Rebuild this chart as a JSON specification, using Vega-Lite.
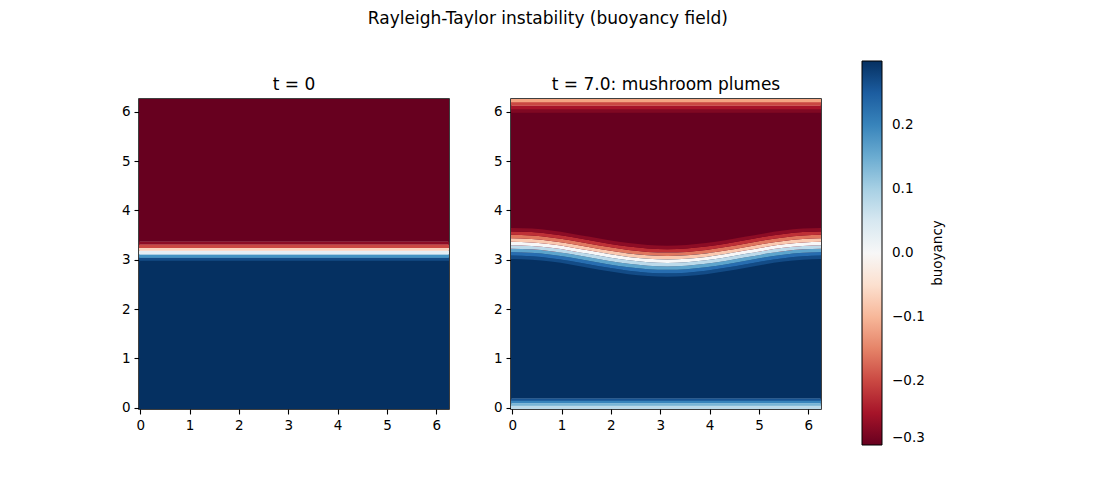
{
  "$schema": "https://vega.github.io/schema/vega-lite/v6.json",
  "padding": {"left": 120, "top": 10, "right": 10, "bottom": 10},
  "title": {"text": "Rayleigh-Taylor instability (buoyancy field)", "fontSize": 17, "offset": 33, "anchor": "middle", "dx": 15},
  "bounds": "flush",
  "spacing": 62,
  "config": {
    "font": "DejaVu Sans",
    "view": {"stroke": "black", "strokeWidth": 1.5},
    "axis": {"domain": false, "grid": false, "tickColor": "black", "tickSize": 5, "tickWidth": 1.1, "labelColor": "black", "labelFont": "DejaVu Sans", "labelFontSize": 13.5, "labelPadding": 4, "labelFlush": false, "labelOverlap": false},
    "title": {"font": "DejaVu Sans", "fontSize": 17, "fontWeight": "normal", "color": "black", "offset": 5},
    "legend": {"labelFont": "DejaVu Sans", "titleFont": "DejaVu Sans"}
  },
  "datasets": {
    "t0": [
      {"x": -0.03, "x2": 6.26, "y": -0.03, "y2": 3.0, "b": 0.3},
      {"x": -0.03, "x2": 6.26, "y": 2.98, "y2": 3.05, "b": 0.27},
      {"x": -0.03, "x2": 6.26, "y": 3.04, "y2": 3.11, "b": 0.18},
      {"x": -0.03, "x2": 6.26, "y": 3.105, "y2": 3.185, "b": 0.03},
      {"x": -0.03, "x2": 6.26, "y": 3.18, "y2": 3.245, "b": -0.07},
      {"x": -0.03, "x2": 6.26, "y": 3.24, "y2": 3.315, "b": -0.2},
      {"x": -0.03, "x2": 6.26, "y": 3.31, "y2": 3.375, "b": -0.27},
      {"x": -0.03, "x2": 6.26, "y": 3.37, "y2": 6.26, "b": -0.3}
    ],
    "t7base": [
      {"x": -0.03, "x2": 6.26, "y": 0.185, "y2": 3.15, "b": 0.3},
      {"x": -0.03, "x2": 6.26, "y": 3.15, "y2": 6.0, "b": -0.3},
      {"x": -0.03, "x2": 6.26, "y": 0.135, "y2": 0.19, "b": 0.26},
      {"x": -0.03, "x2": 6.26, "y": 0.085, "y2": 0.14, "b": 0.2},
      {"x": -0.03, "x2": 6.26, "y": 0.035, "y2": 0.09, "b": 0.14},
      {"x": -0.03, "x2": 6.26, "y": -0.03, "y2": 0.04, "b": 0.08},
      {"x": -0.03, "x2": 6.26, "y": 5.98, "y2": 6.055, "b": -0.28},
      {"x": -0.03, "x2": 6.26, "y": 6.05, "y2": 6.125, "b": -0.25},
      {"x": -0.03, "x2": 6.26, "y": 6.12, "y2": 6.195, "b": -0.2},
      {"x": -0.03, "x2": 6.26, "y": 6.19, "y2": 6.26, "b": -0.12}
    ],
    "t7wave": [
      {"k":1,"x":-0.03,"lo":3.015,"hi":3.085,"b":0.27},{"k":1,"x":0.393,"lo":3.001,"hi":3.071,"b":0.27},{"k":1,"x":0.785,"lo":2.962,"hi":3.032,"b":0.27},{"k":1,"x":1.178,"lo":2.904,"hi":2.974,"b":0.27},{"k":1,"x":1.571,"lo":2.835,"hi":2.905,"b":0.27},{"k":1,"x":1.963,"lo":2.766,"hi":2.836,"b":0.27},{"k":1,"x":2.356,"lo":2.708,"hi":2.778,"b":0.27},{"k":1,"x":2.749,"lo":2.669,"hi":2.739,"b":0.27},{"k":1,"x":3.142,"lo":2.655,"hi":2.725,"b":0.27},{"k":1,"x":3.534,"lo":2.669,"hi":2.739,"b":0.27},{"k":1,"x":3.927,"lo":2.708,"hi":2.778,"b":0.27},{"k":1,"x":4.32,"lo":2.766,"hi":2.836,"b":0.27},{"k":1,"x":4.712,"lo":2.835,"hi":2.905,"b":0.27},{"k":1,"x":5.105,"lo":2.904,"hi":2.974,"b":0.27},{"k":1,"x":5.498,"lo":2.962,"hi":3.032,"b":0.27},{"k":1,"x":5.89,"lo":3.001,"hi":3.071,"b":0.27},{"k":1,"x":6.26,"lo":3.015,"hi":3.085,"b":0.27},
      {"k":2,"x":-0.03,"lo":3.085,"hi":3.155,"b":0.23},{"k":2,"x":0.393,"lo":3.071,"hi":3.141,"b":0.23},{"k":2,"x":0.785,"lo":3.032,"hi":3.102,"b":0.23},{"k":2,"x":1.178,"lo":2.974,"hi":3.044,"b":0.23},{"k":2,"x":1.571,"lo":2.905,"hi":2.975,"b":0.23},{"k":2,"x":1.963,"lo":2.836,"hi":2.906,"b":0.23},{"k":2,"x":2.356,"lo":2.778,"hi":2.848,"b":0.23},{"k":2,"x":2.749,"lo":2.739,"hi":2.809,"b":0.23},{"k":2,"x":3.142,"lo":2.725,"hi":2.795,"b":0.23},{"k":2,"x":3.534,"lo":2.739,"hi":2.809,"b":0.23},{"k":2,"x":3.927,"lo":2.778,"hi":2.848,"b":0.23},{"k":2,"x":4.32,"lo":2.836,"hi":2.906,"b":0.23},{"k":2,"x":4.712,"lo":2.905,"hi":2.975,"b":0.23},{"k":2,"x":5.105,"lo":2.974,"hi":3.044,"b":0.23},{"k":2,"x":5.498,"lo":3.032,"hi":3.102,"b":0.23},{"k":2,"x":5.89,"lo":3.071,"hi":3.141,"b":0.23},{"k":2,"x":6.26,"lo":3.085,"hi":3.155,"b":0.23},
      {"k":3,"x":-0.03,"lo":3.155,"hi":3.225,"b":0.16},{"k":3,"x":0.393,"lo":3.141,"hi":3.211,"b":0.16},{"k":3,"x":0.785,"lo":3.102,"hi":3.172,"b":0.16},{"k":3,"x":1.178,"lo":3.044,"hi":3.114,"b":0.16},{"k":3,"x":1.571,"lo":2.975,"hi":3.045,"b":0.16},{"k":3,"x":1.963,"lo":2.906,"hi":2.976,"b":0.16},{"k":3,"x":2.356,"lo":2.848,"hi":2.918,"b":0.16},{"k":3,"x":2.749,"lo":2.809,"hi":2.879,"b":0.16},{"k":3,"x":3.142,"lo":2.795,"hi":2.865,"b":0.16},{"k":3,"x":3.534,"lo":2.809,"hi":2.879,"b":0.16},{"k":3,"x":3.927,"lo":2.848,"hi":2.918,"b":0.16},{"k":3,"x":4.32,"lo":2.906,"hi":2.976,"b":0.16},{"k":3,"x":4.712,"lo":2.975,"hi":3.045,"b":0.16},{"k":3,"x":5.105,"lo":3.044,"hi":3.114,"b":0.16},{"k":3,"x":5.498,"lo":3.102,"hi":3.172,"b":0.16},{"k":3,"x":5.89,"lo":3.141,"hi":3.211,"b":0.16},{"k":3,"x":6.26,"lo":3.155,"hi":3.225,"b":0.16},
      {"k":4,"x":-0.03,"lo":3.225,"hi":3.295,"b":0.08},{"k":4,"x":0.393,"lo":3.211,"hi":3.281,"b":0.08},{"k":4,"x":0.785,"lo":3.172,"hi":3.242,"b":0.08},{"k":4,"x":1.178,"lo":3.114,"hi":3.184,"b":0.08},{"k":4,"x":1.571,"lo":3.045,"hi":3.115,"b":0.08},{"k":4,"x":1.963,"lo":2.976,"hi":3.046,"b":0.08},{"k":4,"x":2.356,"lo":2.918,"hi":2.988,"b":0.08},{"k":4,"x":2.749,"lo":2.879,"hi":2.949,"b":0.08},{"k":4,"x":3.142,"lo":2.865,"hi":2.935,"b":0.08},{"k":4,"x":3.534,"lo":2.879,"hi":2.949,"b":0.08},{"k":4,"x":3.927,"lo":2.918,"hi":2.988,"b":0.08},{"k":4,"x":4.32,"lo":2.976,"hi":3.046,"b":0.08},{"k":4,"x":4.712,"lo":3.045,"hi":3.115,"b":0.08},{"k":4,"x":5.105,"lo":3.114,"hi":3.184,"b":0.08},{"k":4,"x":5.498,"lo":3.172,"hi":3.242,"b":0.08},{"k":4,"x":5.89,"lo":3.211,"hi":3.281,"b":0.08},{"k":4,"x":6.26,"lo":3.225,"hi":3.295,"b":0.08},
      {"k":5,"x":-0.03,"lo":3.295,"hi":3.365,"b":0.0},{"k":5,"x":0.393,"lo":3.281,"hi":3.351,"b":0.0},{"k":5,"x":0.785,"lo":3.242,"hi":3.312,"b":0.0},{"k":5,"x":1.178,"lo":3.184,"hi":3.254,"b":0.0},{"k":5,"x":1.571,"lo":3.115,"hi":3.185,"b":0.0},{"k":5,"x":1.963,"lo":3.046,"hi":3.116,"b":0.0},{"k":5,"x":2.356,"lo":2.988,"hi":3.058,"b":0.0},{"k":5,"x":2.749,"lo":2.949,"hi":3.019,"b":0.0},{"k":5,"x":3.142,"lo":2.935,"hi":3.005,"b":0.0},{"k":5,"x":3.534,"lo":2.949,"hi":3.019,"b":0.0},{"k":5,"x":3.927,"lo":2.988,"hi":3.058,"b":0.0},{"k":5,"x":4.32,"lo":3.046,"hi":3.116,"b":0.0},{"k":5,"x":4.712,"lo":3.115,"hi":3.185,"b":0.0},{"k":5,"x":5.105,"lo":3.184,"hi":3.254,"b":0.0},{"k":5,"x":5.498,"lo":3.242,"hi":3.312,"b":0.0},{"k":5,"x":5.89,"lo":3.281,"hi":3.351,"b":0.0},{"k":5,"x":6.26,"lo":3.295,"hi":3.365,"b":0.0},
      {"k":6,"x":-0.03,"lo":3.365,"hi":3.435,"b":-0.08},{"k":6,"x":0.393,"lo":3.351,"hi":3.421,"b":-0.08},{"k":6,"x":0.785,"lo":3.312,"hi":3.382,"b":-0.08},{"k":6,"x":1.178,"lo":3.254,"hi":3.324,"b":-0.08},{"k":6,"x":1.571,"lo":3.185,"hi":3.255,"b":-0.08},{"k":6,"x":1.963,"lo":3.116,"hi":3.186,"b":-0.08},{"k":6,"x":2.356,"lo":3.058,"hi":3.128,"b":-0.08},{"k":6,"x":2.749,"lo":3.019,"hi":3.089,"b":-0.08},{"k":6,"x":3.142,"lo":3.005,"hi":3.075,"b":-0.08},{"k":6,"x":3.534,"lo":3.019,"hi":3.089,"b":-0.08},{"k":6,"x":3.927,"lo":3.058,"hi":3.128,"b":-0.08},{"k":6,"x":4.32,"lo":3.116,"hi":3.186,"b":-0.08},{"k":6,"x":4.712,"lo":3.185,"hi":3.255,"b":-0.08},{"k":6,"x":5.105,"lo":3.254,"hi":3.324,"b":-0.08},{"k":6,"x":5.498,"lo":3.312,"hi":3.382,"b":-0.08},{"k":6,"x":5.89,"lo":3.351,"hi":3.421,"b":-0.08},{"k":6,"x":6.26,"lo":3.365,"hi":3.435,"b":-0.08},
      {"k":7,"x":-0.03,"lo":3.435,"hi":3.505,"b":-0.16},{"k":7,"x":0.393,"lo":3.421,"hi":3.491,"b":-0.16},{"k":7,"x":0.785,"lo":3.382,"hi":3.452,"b":-0.16},{"k":7,"x":1.178,"lo":3.324,"hi":3.394,"b":-0.16},{"k":7,"x":1.571,"lo":3.255,"hi":3.325,"b":-0.16},{"k":7,"x":1.963,"lo":3.186,"hi":3.256,"b":-0.16},{"k":7,"x":2.356,"lo":3.128,"hi":3.198,"b":-0.16},{"k":7,"x":2.749,"lo":3.089,"hi":3.159,"b":-0.16},{"k":7,"x":3.142,"lo":3.075,"hi":3.145,"b":-0.16},{"k":7,"x":3.534,"lo":3.089,"hi":3.159,"b":-0.16},{"k":7,"x":3.927,"lo":3.128,"hi":3.198,"b":-0.16},{"k":7,"x":4.32,"lo":3.186,"hi":3.256,"b":-0.16},{"k":7,"x":4.712,"lo":3.255,"hi":3.325,"b":-0.16},{"k":7,"x":5.105,"lo":3.324,"hi":3.394,"b":-0.16},{"k":7,"x":5.498,"lo":3.382,"hi":3.452,"b":-0.16},{"k":7,"x":5.89,"lo":3.421,"hi":3.491,"b":-0.16},{"k":7,"x":6.26,"lo":3.435,"hi":3.505,"b":-0.16},
      {"k":8,"x":-0.03,"lo":3.505,"hi":3.575,"b":-0.22},{"k":8,"x":0.393,"lo":3.491,"hi":3.561,"b":-0.22},{"k":8,"x":0.785,"lo":3.452,"hi":3.522,"b":-0.22},{"k":8,"x":1.178,"lo":3.394,"hi":3.464,"b":-0.22},{"k":8,"x":1.571,"lo":3.325,"hi":3.395,"b":-0.22},{"k":8,"x":1.963,"lo":3.256,"hi":3.326,"b":-0.22},{"k":8,"x":2.356,"lo":3.198,"hi":3.268,"b":-0.22},{"k":8,"x":2.749,"lo":3.159,"hi":3.229,"b":-0.22},{"k":8,"x":3.142,"lo":3.145,"hi":3.215,"b":-0.22},{"k":8,"x":3.534,"lo":3.159,"hi":3.229,"b":-0.22},{"k":8,"x":3.927,"lo":3.198,"hi":3.268,"b":-0.22},{"k":8,"x":4.32,"lo":3.256,"hi":3.326,"b":-0.22},{"k":8,"x":4.712,"lo":3.325,"hi":3.395,"b":-0.22},{"k":8,"x":5.105,"lo":3.394,"hi":3.464,"b":-0.22},{"k":8,"x":5.498,"lo":3.452,"hi":3.522,"b":-0.22},{"k":8,"x":5.89,"lo":3.491,"hi":3.561,"b":-0.22},{"k":8,"x":6.26,"lo":3.505,"hi":3.575,"b":-0.22},
      {"k":9,"x":-0.03,"lo":3.575,"hi":3.645,"b":-0.27},{"k":9,"x":0.393,"lo":3.561,"hi":3.631,"b":-0.27},{"k":9,"x":0.785,"lo":3.522,"hi":3.592,"b":-0.27},{"k":9,"x":1.178,"lo":3.464,"hi":3.534,"b":-0.27},{"k":9,"x":1.571,"lo":3.395,"hi":3.465,"b":-0.27},{"k":9,"x":1.963,"lo":3.326,"hi":3.396,"b":-0.27},{"k":9,"x":2.356,"lo":3.268,"hi":3.338,"b":-0.27},{"k":9,"x":2.749,"lo":3.229,"hi":3.299,"b":-0.27},{"k":9,"x":3.142,"lo":3.215,"hi":3.285,"b":-0.27},{"k":9,"x":3.534,"lo":3.229,"hi":3.299,"b":-0.27},{"k":9,"x":3.927,"lo":3.268,"hi":3.338,"b":-0.27},{"k":9,"x":4.32,"lo":3.326,"hi":3.396,"b":-0.27},{"k":9,"x":4.712,"lo":3.395,"hi":3.465,"b":-0.27},{"k":9,"x":5.105,"lo":3.464,"hi":3.534,"b":-0.27},{"k":9,"x":5.498,"lo":3.522,"hi":3.592,"b":-0.27},{"k":9,"x":5.89,"lo":3.561,"hi":3.631,"b":-0.27},{"k":9,"x":6.26,"lo":3.575,"hi":3.645,"b":-0.27}
    ]
  },
  "hconcat": [
    {
      "width": 310, "height": 310,
      "title": "t = 0",
      "data": {"name": "t0"},
      "mark": {"type": "rect", "clip": true},
      "encoding": {
        "x": {"field": "x", "type": "quantitative", "title": null, "scale": {"domain": [-0.025, 6.258], "nice": false, "zero": false}, "axis": {"values": [0,1,2,3,4,5,6], "format": "d"}},
        "x2": {"field": "x2"},
        "y": {"field": "y", "type": "quantitative", "title": null, "scale": {"domain": [-0.025, 6.258], "nice": false, "zero": false}, "axis": {"values": [0,1,2,3,4,5,6], "format": "d"}},
        "y2": {"field": "y2"},
        "color": {"field": "b", "type": "quantitative", "scale": {"domain": [-0.3,-0.24,-0.18,-0.12,-0.06,0,0.06,0.12,0.18,0.24,0.3], "range": ["#67001f","#b2182b","#d6604d","#f4a582","#fddbc7","#f7f7f7","#d1e5f0","#92c5de","#4393c3","#2166ac","#053061"], "interpolate": "rgb"},
          "legend": {"type": "gradient", "title": "buoyancy", "orient": "none", "legendX": 723, "legendY": -38, "direction": "vertical", "gradientLength": 384, "gradientThickness": 20, "gradientStrokeColor": "black", "gradientStrokeWidth": 1, "values": [-0.3,-0.2,-0.1,0,0.1,0.2], "format": ".1f", "labelFontSize": 13.5, "labelColor": "black", "labelOffset": 10, "titleOrient": "right", "titleFontSize": 13.5, "titleFontWeight": "normal", "titleColor": "black", "titleAnchor": "middle", "titlePadding": 6,
            "encode": {"title": {"update": {"angle": {"value": 270}, "baseline": {"value": "top"}}}}}}
      }
    },
    {
      "width": 310, "height": 310,
      "title": "t = 7.0: mushroom plumes",
      "layer": [
        {
          "data": {"name": "t7base"},
          "mark": {"type": "rect", "clip": true},
          "encoding": {
            "x": {"field": "x", "type": "quantitative", "title": null, "scale": {"domain": [-0.025, 6.258], "nice": false, "zero": false}, "axis": {"values": [0,1,2,3,4,5,6], "format": "d"}},
            "x2": {"field": "x2"},
            "y": {"field": "y", "type": "quantitative", "title": null, "scale": {"domain": [-0.025, 6.258], "nice": false, "zero": false}, "axis": {"values": [0,1,2,3,4,5,6], "format": "d"}},
            "y2": {"field": "y2"},
            "color": {"field": "b", "type": "quantitative"}
          }
        },
        {
          "data": {"name": "t7wave"},
          "mark": {"type": "area", "clip": true, "interpolate": "monotone"},
          "encoding": {
            "x": {"field": "x", "type": "quantitative"},
            "y": {"field": "lo", "type": "quantitative"},
            "y2": {"field": "hi"},
            "detail": {"field": "k", "type": "nominal"},
            "color": {"field": "b", "type": "quantitative"}
          }
        }
      ]
    }
  ]
}
